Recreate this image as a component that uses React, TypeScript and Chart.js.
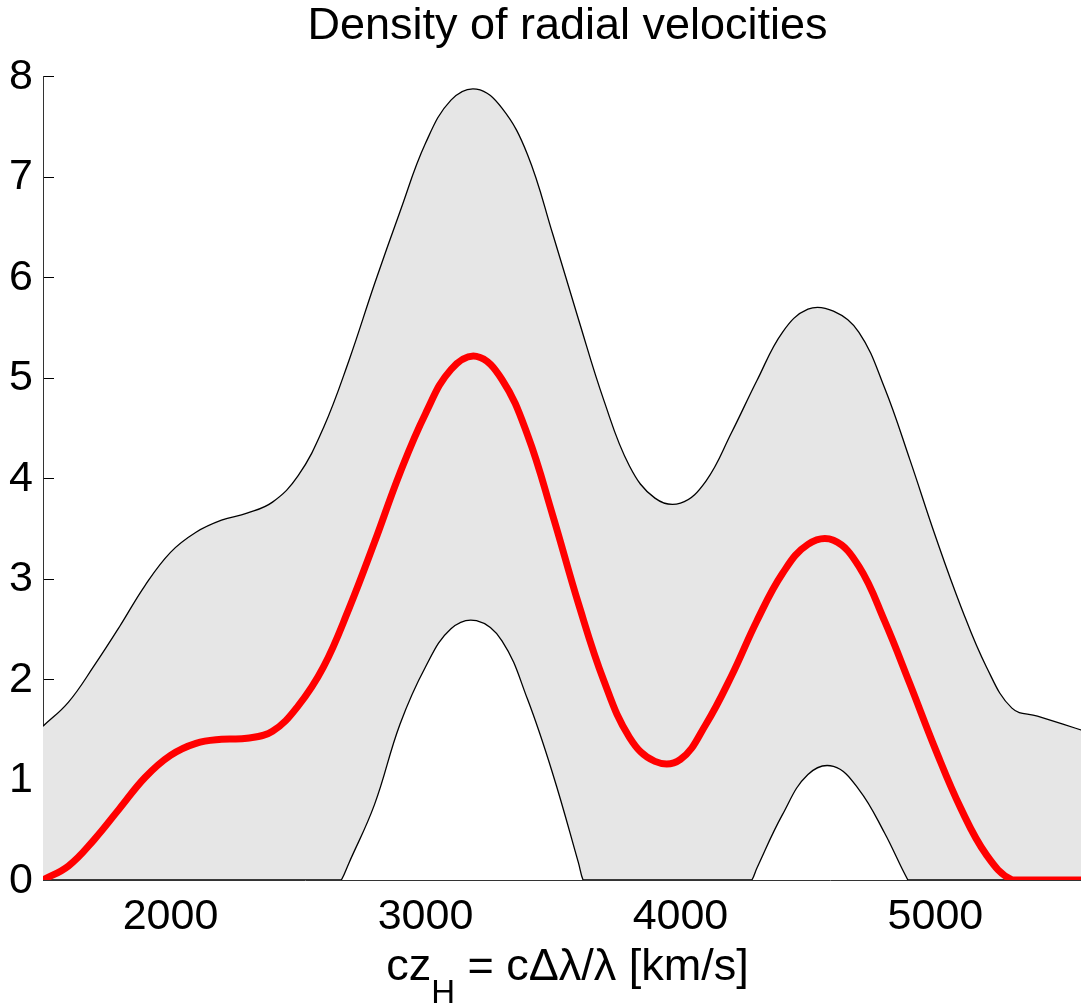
import React, { useEffect, useRef } from 'react';
import { Chart, registerables } from 'chart.js';

Chart.register(...registerables);

const VELOCITY = [1500, 1600, 1700, 1800, 1900, 2000, 2100, 2200, 2300, 2400, 2500, 2600, 2700, 2800, 2900, 3000, 3100, 3200, 3300, 3400, 3500, 3600, 3700, 3800, 3900, 4000, 4100, 4200, 4300, 4400, 4500, 4600, 4700, 4800, 4900, 5000, 5100, 5200, 5300, 5400, 5500, 5600];

const UPPER = [1.53, 1.77, 2.13, 2.52, 2.93, 3.26, 3.46, 3.58, 3.65, 3.76, 4.02, 4.5, 5.17, 5.93, 6.65, 7.33, 7.76, 7.87, 7.68, 7.22, 6.42, 5.58, 4.77, 4.12, 3.8, 3.75, 3.97, 4.45, 4.97, 5.45, 5.68, 5.66, 5.45, 4.9, 4.18, 3.42, 2.72, 2.12, 1.71, 1.63, 1.55, 1.47];

const MEAN = [0, 0.14, 0.4, 0.71, 1.02, 1.24, 1.36, 1.4, 1.41, 1.48, 1.73, 2.12, 2.7, 3.36, 4.05, 4.64, 5.08, 5.21, 4.98, 4.43, 3.62, 2.75, 1.98, 1.42, 1.18, 1.2, 1.55, 2.03, 2.58, 3.05, 3.34, 3.38, 3.12, 2.58, 1.95, 1.3, 0.71, 0.25, 0, 0, 0, 0];

// Lower band: clipped at zero, with its own sample positions (incl. where it leaves/returns to 0)
const LOWER_VELOCITY = [1500, 2660, 2670, 2700, 2800, 2900, 3000, 3100, 3200, 3300, 3400, 3500, 3600, 3618, 3628, 4270, 4280, 4300, 4400, 4500, 4600, 4700, 4800, 4892, 4902, 5600];
const LOWER = [0, 0, 0, 0.17, 0.75, 1.55, 2.12, 2.5, 2.58, 2.38, 1.8, 1.05, 0.17, 0, 0, 0, 0, 0.12, 0.65, 1.05, 1.13, 0.9, 0.47, 0, 0, 0];

const X_TICKS = [2000, 3000, 4000, 5000];
const Y_TICKS = [0, 1, 2, 3, 4, 5, 6, 7, 8];
const X_MIN = 1500;
const X_MAX = 5614;
const Y_MIN = 0;
const Y_MAX = 8;

const TITLE = 'Density of radial velocities';
const XLABEL_MAIN = 'cz';
const XLABEL_SUB = 'H';
const XLABEL_REST = ' = c\u0394\u03bb/\u03bb [km/s]';

const FONT = '"Liberation Sans", Arial, Helvetica, sans-serif';

export default function App() {
  const ref = useRef<HTMLCanvasElement>(null);

  useEffect(() => {
    const canvas = ref.current;
    if (!canvas) return;
    const pts = (xs: number[], ys: number[]) => xs.map((x, i) => ({ x, y: ys[i] }));

    const innerTicks = {
      id: 'innerTicks',
      beforeDraw(chart: any) {
        const ctx = chart.ctx;
        const y = chart.scales.y;
        const left = chart.chartArea.left;
        ctx.save();
        ctx.strokeStyle = '#000';
        ctx.lineWidth = 1;
        Y_TICKS.forEach((v) => {
          const py = Math.round(y.getPixelForValue(v)) + 0.5;
          ctx.beginPath();
          ctx.moveTo(left, py);
          ctx.lineTo(left + 11, py);
          ctx.stroke();
        });
        ctx.restore();
      },
    };

    const xTitle = {
      id: 'xTitle',
      afterDraw(chart: any) {
        const ctx = chart.ctx;
        const area = chart.chartArea;
        ctx.save();
        ctx.fillStyle = '#000';
        ctx.textBaseline = 'alphabetic';
        ctx.textAlign = 'left';
        const main = `45px ${FONT}`;
        const sub = `33px ${FONT}`;
        ctx.font = main;
        const w1 = ctx.measureText(XLABEL_MAIN).width;
        const w3 = ctx.measureText(XLABEL_REST).width;
        ctx.font = sub;
        const w2 = ctx.measureText(XLABEL_SUB).width;
        const cx = (area.left + area.right) / 2;
        let x = cx - (w1 + w2 + w3) / 2;
        const base = area.bottom + 100;
        ctx.font = main;
        ctx.fillText(XLABEL_MAIN, x, base);
        x += w1;
        ctx.font = sub;
        ctx.fillText(XLABEL_SUB, x, base + 23);
        x += w2;
        ctx.font = main;
        ctx.fillText(XLABEL_REST, x, base);
        ctx.restore();
      },
    };

    const chart = new Chart(canvas, {
      type: 'line',
      data: {
        datasets: [
          {
            label: 'mean',
            data: pts(VELOCITY, MEAN),
            borderColor: '#ff0000',
            borderWidth: 7,
            pointRadius: 0,
            fill: false,
            tension: 0.4,
          },
          {
            label: 'upper',
            data: pts(VELOCITY, UPPER),
            borderColor: '#000000',
            borderWidth: 1.3,
            pointRadius: 0,
            fill: 2,
            backgroundColor: '#e6e6e6',
            tension: 0.4,
          },
          {
            label: 'lower',
            data: pts(LOWER_VELOCITY, LOWER),
            borderColor: '#000000',
            borderWidth: 1.3,
            pointRadius: 0,
            fill: false,
            tension: 0.4,
          },
        ],
      },
      options: {
        responsive: false,
        animation: false,
        devicePixelRatio: 1,
        layout: { padding: { left: 0, right: 0, top: 0, bottom: 0 } },
        plugins: {
          legend: { display: false },
          tooltip: { enabled: false },
          filler: { drawTime: 'beforeDatasetsDraw' },
          title: {
            display: true,
            fullSize: false,
            text: TITLE,
            color: '#000',
            font: { family: FONT, size: 45, weight: 'normal' },
            padding: { top: 0, bottom: 22 },
          },
        },
        scales: {
          x: {
            type: 'linear',
            min: X_MIN,
            max: X_MAX,
            afterBuildTicks: (s: any) => {
              s.ticks = X_TICKS.map((v) => ({ value: v }));
            },
            afterFit: (s: any) => {
              s.height = 126;
            },
            ticks: {
              color: '#000',
              font: { family: FONT, size: 43 },
              padding: 11,
              maxRotation: 0,
              autoSkip: false,
              callback: (v: any) => String(v),
            },
            grid: { display: true, drawOnChartArea: false, drawTicks: false },
            border: { display: true, color: '#333', width: 1 },
          },
          y: {
            type: 'linear',
            min: Y_MIN,
            max: Y_MAX,
            afterBuildTicks: (s: any) => {
              s.ticks = Y_TICKS.map((v) => ({ value: v }));
            },
            afterFit: (s: any) => {
              s.width = 43;
            },
            ticks: {
              color: '#000',
              font: { family: FONT, size: 43 },
              padding: 10,
              labelOffset: 1,
              callback: (v: any) => String(v),
            },
            grid: { display: true, drawOnChartArea: false, drawTicks: false },
            border: { display: true, color: '#333', width: 1 },
          },
        },
      },
      plugins: [innerTicks, xTitle],
    } as any);

    return () => chart.destroy();
  }, []);

  return (
    <div style={{ position: 'fixed', left: 0, top: 0, width: 1081, height: 1006, overflow: 'hidden', background: '#fff' }}>
      <canvas ref={ref} width={1092} height={1006} style={{ width: 1092, height: 1006, display: 'block' }} />
    </div>
  );
}
